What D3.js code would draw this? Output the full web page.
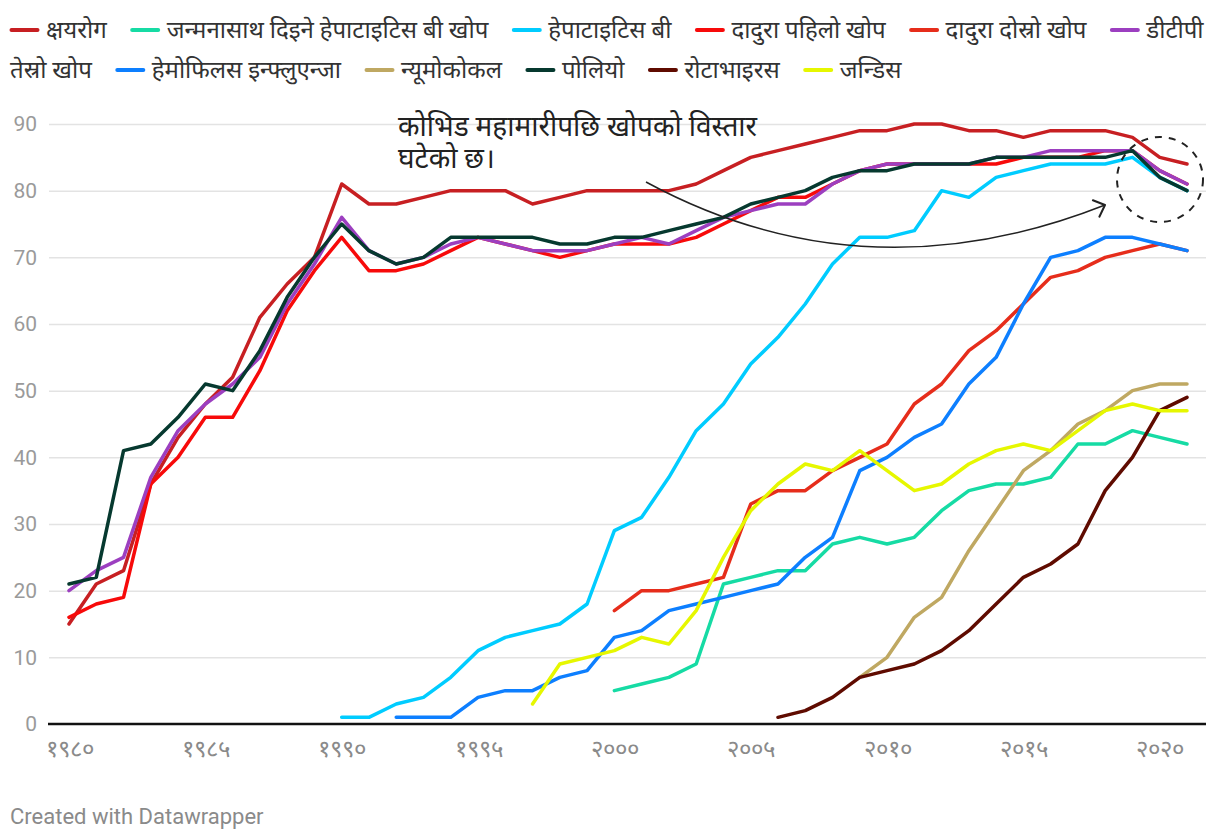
<!DOCTYPE html>
<html>
<head>
<meta charset="utf-8">
<script src="https://cdn.jsdelivr.net/npm/d3@7"></script>
<style>
  html, body { margin: 0; padding: 0; background: #fff; }
  body { width: 1220px; height: 840px; overflow: hidden; font-family: Roboto, "Noto Sans", sans-serif; }
  svg { display: block; }
</style>
</head>
<body>
<svg id="chart" width="1220" height="840"></svg>
<script>
const years = d3.range(1980, 2022);

const seriesNames = [
  "क्षयरोग",
  "जन्मनासाथ दिइने हेपाटाइटिस बी खोप",
  "हेपाटाइटिस बी",
  "दादुरा पहिलो खोप",
  "दादुरा दोस्रो खोप",
  "डीटीपी तेस्रो खोप",
  "हेमोफिलस इन्फ्लुएन्जा",
  "न्यूमोकोकल",
  "पोलियो",
  "रोटाभाइरस",
  "जन्डिस"
];
const seriesColors = ["#c71f22", "#16dba4", "#00ccff", "#f70a0a", "#e62d1b", "#9c3fc0", "#0d7fff", "#bfa862", "#06392f", "#5f0b00", "#e6f700"];

// values 1980..2021 (null = no data)
const tb = [15,21,23,36,43,48,52,61,66,70,81,78,78,79,80,80,80,78,79,80,80,80,80,81,83,85,86,87,88,89,89,90,90,89,89,88,89,89,89,88,85,84];
const hepbBirth = [null,null,null,null,null,null,null,null,null,null,null,null,null,null,null,null,null,null,null,null,5,6,7,9,21,22,23,23,27,28,27,28,32,35,36,36,37,42,42,44,43,42];
const hepb = [null,null,null,null,null,null,null,null,null,null,1,1,3,4,7,11,13,14,15,18,29,31,37,44,48,54,58,63,69,73,73,74,80,79,82,83,84,84,84,85,82,80];
const measles1 = [16,18,19,36,40,46,46,53,62,68,73,68,68,69,71,73,72,71,70,71,72,72,72,73,75,77,79,79,81,83,84,84,84,84,84,85,85,85,86,86,83,81];
const measles2 = [null,null,null,null,null,null,null,null,null,null,null,null,null,null,null,null,null,null,null,null,17,20,20,21,22,33,35,35,38,40,42,48,51,56,59,63,67,68,70,71,72,71];
const dtp3 = [20,23,25,37,44,48,51,55,63,69,76,71,69,70,72,73,72,71,71,71,72,73,72,74,76,77,78,78,81,83,84,84,84,84,85,85,86,86,86,86,83,81];
const hib = [null,null,null,null,null,null,null,null,null,null,null,null,1,1,1,4,5,5,7,8,13,14,17,18,19,20,21,25,28,38,40,43,45,51,55,63,70,71,73,73,72,71];
const pneumo = [null,null,null,null,null,null,null,null,null,null,null,null,null,null,null,null,null,null,null,null,null,null,null,null,null,null,null,null,null,7,10,16,19,26,32,38,41,45,47,50,51,51];
const polio = [21,22,41,42,46,51,50,56,64,70,75,71,69,70,73,73,73,73,72,72,73,73,74,75,76,78,79,80,82,83,83,84,84,84,85,85,85,85,85,86,82,80];
const rota = [null,null,null,null,null,null,null,null,null,null,null,null,null,null,null,null,null,null,null,null,null,null,null,null,null,null,1,2,4,7,8,9,11,14,18,22,24,27,35,40,47,49];
const jaundice = [null,null,null,null,null,null,null,null,null,null,null,null,null,null,null,null,null,3,9,10,11,13,12,17,25,32,36,39,38,41,38,35,36,39,41,42,41,44,47,48,47,47];

const seriesValues = [tb, hepbBirth, hepb, measles1, measles2, dtp3, hib, pneumo, polio, rota, jaundice];

const yTicks = [0,10,20,30,40,50,60,70,80,90];
const xTicks = [1980,1985,1990,1995,2000,2005,2010,2015,2020];
const devDigits = "०१२३४५६७८९";
const toDev = n => String(n).split("").map(c => devDigits[+c]).join("");

const annotationLines = ["कोभिड महामारीपछि खोपको विस्तार", "घटेको छ।"];
const creditText = "Created with Datawrapper";

const x = d3.scaleLinear().domain([1980, 2021]).range([69, 1187]);
const y = d3.scaleLinear().domain([0, 90]).range([724, 124]);

const svg = d3.select("#chart");

// gridlines
const grid = svg.append("g")
  .call(d3.axisLeft(y).tickValues(yTicks).tickSize(-(1206 - 49)).tickFormat(""))
  .attr("transform", "translate(49,0)");
grid.select(".domain").remove();
grid.selectAll(".tick line").attr("stroke", "#e3e3e3").attr("stroke-width", 1.5)
  .filter(d => d === 0).remove();

// y labels
const yl = svg.append("g").attr("transform", "translate(37,0)")
  .call(d3.axisLeft(y).tickValues(yTicks).tickSize(0).tickPadding(0));
yl.select(".domain").remove();
yl.selectAll("text").attr("font-family", "Roboto, sans-serif").attr("font-size", 21).attr("fill", "#9a9a9a");

// baseline
svg.append("line").attr("x1", 48).attr("x2", 1206).attr("y1", y(0)).attr("y2", y(0))
  .attr("stroke", "#111").attr("stroke-width", 2.5);

// x labels
const xl = svg.append("g").attr("transform", `translate(0,${y(0)})`)
  .call(d3.axisBottom(x).tickValues(xTicks).tickSize(0).tickPadding(21).tickFormat(toDev));
xl.select(".domain").remove();
xl.selectAll("text").attr("font-size", 24).attr("fill", "#8a8a8a").attr("dy", "0.5em");

// lines
const line = d3.line()
  .defined(d => d.v !== null)
  .x(d => x(d.year))
  .y(d => y(d.v));

seriesValues.forEach((vals, i) => {
  const data = years.map((yr, j) => ({ year: yr, v: vals[j] }));
  svg.append("path")
    .datum(data)
    .attr("fill", "none")
    .attr("stroke", seriesColors[i])
    .attr("stroke-width", 3.5)
    .attr("stroke-linejoin", "round")
    .attr("stroke-linecap", "round")
    .attr("d", line);
});

// annotation text
const ann = svg.append("text").attr("x", 398).attr("y", 136)
  .attr("font-size", 28).attr("fill", "#222");
annotationLines.forEach((t, i) => {
  ann.append("tspan").attr("x", 398).attr("dy", i === 0 ? 0 : 32).text(t);
});

// curved arrow
const p0 = [646, 182], p1 = [864, 300], p2 = [1105, 205];
svg.append("path")
  .attr("d", `M${p0[0]},${p0[1]} Q${p1[0]},${p1[1]} ${p2[0]},${p2[1]}`)
  .attr("fill", "none").attr("stroke", "#222").attr("stroke-width", 1.5);
const ang = Math.atan2(p2[1] - p1[1], p2[0] - p1[0]);
const ah = 13, spread = Math.PI / 4.2;
const a1 = [p2[0] - ah * Math.cos(ang - spread), p2[1] - ah * Math.sin(ang - spread)];
const a2 = [p2[0] - ah * Math.cos(ang + spread), p2[1] - ah * Math.sin(ang + spread)];
svg.append("path")
  .attr("d", `M${a1[0]},${a1[1]} L${p2[0]},${p2[1]} L${a2[0]},${a2[1]}`)
  .attr("fill", "none").attr("stroke", "#222").attr("stroke-width", 2)
  .attr("stroke-linecap", "round").attr("stroke-linejoin", "round");

// dashed circle
svg.append("ellipse").attr("cx", 1160).attr("cy", 179.5).attr("rx", 43).attr("ry", 42.5)
  .attr("fill", "none").attr("stroke", "#222").attr("stroke-width", 2)
  .attr("stroke-dasharray", "7,7");

// credit
svg.append("text").attr("x", 10).attr("y", 824).attr("font-size", 22)
  .attr("font-family", "Roboto, sans-serif").attr("fill", "#8a8a8a").text(creditText);

// legend (inline flow with word wrapping, like the original HTML legend)
const lg = svg.append("g").attr("class", "legend");
const legendLeft = 10, legendRight = 1205, lineYs = [30, 70], swW = 29, swGap = 7, itemGap = 24;
const measure = lg.append("text").attr("font-size", 24).attr("visibility", "hidden");
const textW = s => { measure.text(s); return measure.node().getComputedTextLength(); };
let cx = legendLeft, row = 0;
seriesNames.forEach((name, i) => {
  if (cx + swW + swGap + textW(name.split(" ")[0]) > legendRight) { row++; cx = legendLeft; }
  lg.append("line")
    .attr("x1", cx + 1.5).attr("x2", cx + swW - 1.5)
    .attr("y1", lineYs[row]).attr("y2", lineYs[row])
    .attr("stroke", seriesColors[i]).attr("stroke-width", 4).attr("stroke-linecap", "round");
  cx += swW + swGap;
  const words = name.split(" ");
  let chunk = [];
  words.forEach(w => {
    const trial = chunk.concat([w]).join(" ");
    if (chunk.length && cx + textW(trial) > legendRight) {
      lg.append("text").attr("x", cx).attr("y", lineYs[row]).attr("dy", "0.35em")
        .attr("font-size", 24).attr("fill", "#333").text(chunk.join(" "));
      row++; cx = legendLeft; chunk = [w];
    } else {
      chunk.push(w);
    }
  });
  const s = chunk.join(" ");
  lg.append("text").attr("x", cx).attr("y", lineYs[row]).attr("dy", "0.35em")
    .attr("font-size", 24).attr("fill", "#333").text(s);
  cx += textW(s) + itemGap;
});
measure.remove();
</script>
</body>
</html>
